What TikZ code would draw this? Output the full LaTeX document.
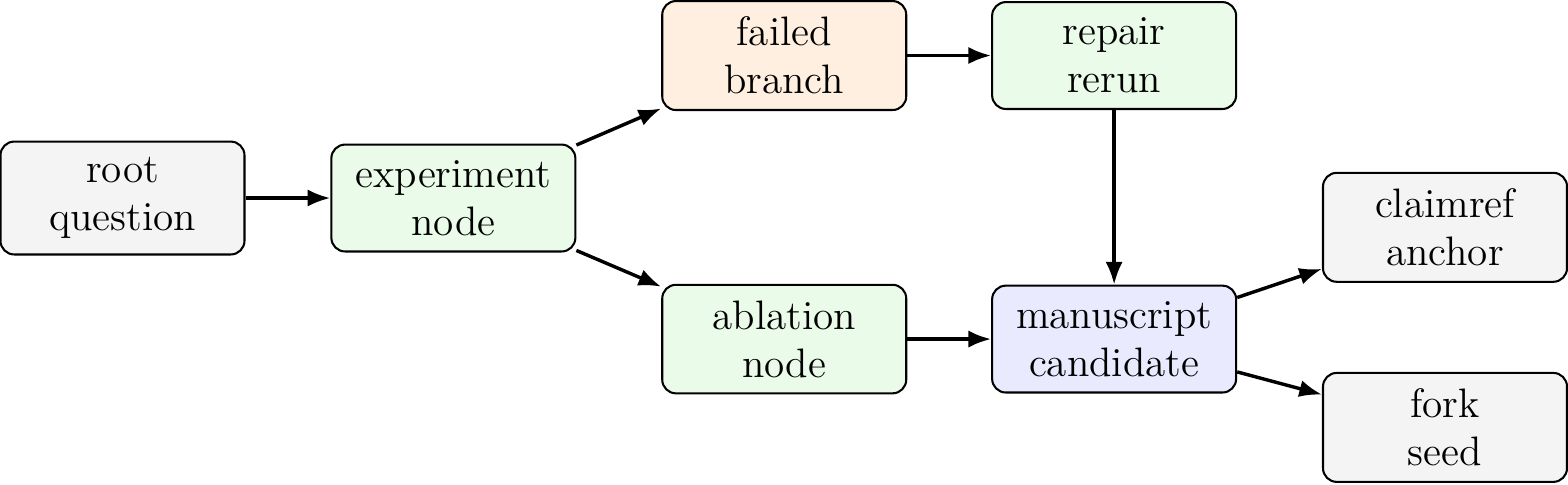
\documentclass[tikz,border=0pt]{standalone}
\usepackage{amsmath}
\usepackage{tikz}
\usetikzlibrary{arrows.meta, positioning, calc}
\definecolor{rootfill} {HTML}{F4F4F4}
\definecolor{runfill}  {HTML}{EAFCE9}
\definecolor{failfill} {HTML}{FFEFE0}
\definecolor{paperfill}{HTML}{EAEAFF}

\begin{document}
\begin{tikzpicture}[
    box/.style={draw, semithick, rounded corners=4pt, align=center,
                minimum width=2.5cm, inner sep=4.6pt, font=\large},
    flow/.style={-{Latex[length=6.6pt, width=5pt]}, line width=1pt}]
      \useasboundingbox (-1.255, -2.930) rectangle (14.810, 2.029);
      \foreach \n/\x/\y/\c/\t in
        {root/0/0/rootfill/{root\\question},
         experiment/3.39/0/runfill/{experiment\\node},
         failed/6.78/1.46/failfill/{failed\\branch},
         repair/10.16/1.46/runfill/{repair\\rerun},
         ablation/6.78/-1.445/runfill/{ablation\\node},
         manuscript/10.16/-1.445/paperfill/{manuscript\\candidate},
         claimref/13.55/-0.30/rootfill/{claimref\\anchor},
         fork/13.55/-2.35/rootfill/{fork\\seed}}
        {\node[box, fill=\c] (\n) at (\x, \y) {\t};}
      \foreach \a/\b in
        {root/experiment, experiment/failed, experiment/ablation,
         failed/repair, repair/manuscript, ablation/manuscript,
         manuscript/claimref, manuscript/fork}
        {\draw[flow] (\a) -- (\b);}
    \end{tikzpicture}
\end{document}
